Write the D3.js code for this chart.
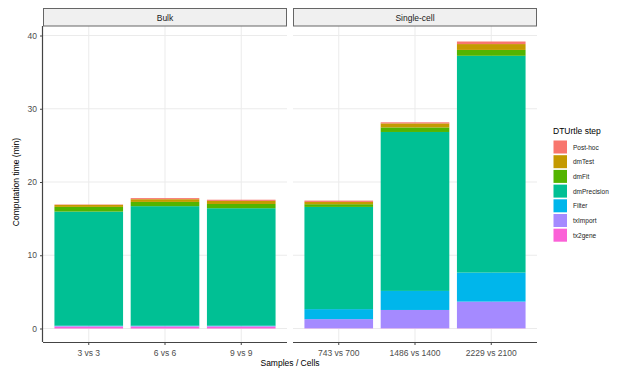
<!DOCTYPE html>
<html><head><meta charset="utf-8">
<script src="https://cdn.jsdelivr.net/npm/d3@7"></script>
<style>body{margin:0;background:#fff}svg{display:block;font-family:"Liberation Sans",Arial,sans-serif}</style>
</head><body><svg id="c" width="627" height="370"></svg>
<script>
const facets = ["Bulk", "Single-cell"];
const bulkCategories = ["3 vs 3", "6 vs 6", "9 vs 9"];
const scCategories = ["743 vs 700", "1486 vs 1400", "2229 vs 2100"];
const steps = ["Post-hoc", "dmTest", "dmFit", "dmPrecision", "Filter", "txImport", "tx2gene"];
const stepColors = ["#F8766D", "#C49A00", "#53B400", "#00C094", "#00B6EB", "#A58AFF", "#FB61D7"];
// values per step, in category order (bulk then single-cell)
const tx2gene     = [0.25, 0.25, 0.25, 0.03, 0.03, 0.03];
const txImport    = [0.08, 0.08, 0.08, 1.25, 2.50, 3.64];
const filterStep  = [0.05, 0.05, 0.05, 1.37, 2.60, 3.96];
const dmPrecision = [15.58, 16.32, 16.04, 13.95, 21.70, 29.60];
const dmFit       = [0.64, 0.58, 0.58, 0.37, 0.62, 0.80];
const dmTest      = [0.28, 0.37, 0.42, 0.31, 0.55, 0.80];
const postHoc     = [0.05, 0.15, 0.16, 0.18, 0.15, 0.35];
const yTicks = [0, 10, 20, 30, 40];

(function () {
const stepValues = {"tx2gene": tx2gene, "txImport": txImport, "Filter": filterStep, "dmPrecision": dmPrecision, "dmFit": dmFit, "dmTest": dmTest, "Post-hoc": postHoc};
const allCats = bulkCategories.concat(scCategories);
const rows = allCats.map((c, i) => {
  const r = {cat: c, facet: i < 3 ? facets[0] : facets[1]};
  steps.forEach(s => r[s] = stepValues[s][i]);
  return r;
});
const stackOrder = steps.slice().reverse(); // bottom to top
const stacked = d3.stack().keys(stackOrder)(rows);
const color = d3.scaleOrdinal().domain(steps).range(stepColors);

const svg = d3.select("#c");
const pTop = 26, pBottom = 342;
const y = d3.scaleLinear().domain([0, 40]).range([328.5, 35.5]);
const panels = [{name: facets[0], x0: 43, x1: 287, cats: bulkCategories}, {name: facets[1], x0: 293, x1: 537, cats: scCategories}];
const grid = "#ebebeb";

panels.forEach(p => {
  const w = p.x1 - p.x0;
  const unit = w / 3.2;
  const xb = d3.scaleBand().domain(p.cats).range([p.x0 + 0.1 * unit, p.x1 - 0.1 * unit]).paddingInner(0.1).paddingOuter(0.05);
  const g = svg.append("g");
  g.selectAll(".hy").data(yTicks).join("line").attr("x1", p.x0).attr("x2", p.x1)
    .attr("y1", d => y(d)).attr("y2", d => y(d)).attr("stroke", grid).attr("stroke-width", 1);
  g.selectAll(".vx").data(p.cats).join("line").attr("y1", pTop).attr("y2", pBottom)
    .attr("x1", d => xb(d) + xb.bandwidth() / 2).attr("x2", d => xb(d) + xb.bandwidth() / 2).attr("stroke", grid);
  stacked.forEach(layer => {
    g.selectAll(null).data(layer.filter(d => d.data.facet === p.name)).join("rect")
      .attr("x", d => xb(d.data.cat)).attr("width", xb.bandwidth())
      .attr("y", d => y(d[1])).attr("height", d => Math.max(0, y(d[0]) - y(d[1])))
      .attr("fill", color(layer.key));
  });
  g.append("rect").attr("x", p.x0 + 0.5).attr("y", 8.5).attr("width", w - 1).attr("height", 17.5)
    .attr("fill", "#f0f0f0").attr("stroke", "#666").attr("stroke-width", 1);
  g.append("text").attr("x", (p.x0 + p.x1) / 2).attr("y", 20.5).attr("text-anchor", "middle")
    .attr("font-size", 8.5).attr("fill", "#1a1a1a").text(p.name);
  const xAxis = d3.axisBottom(xb).tickSize(3).tickSizeOuter(0);
  const ax = g.append("g").attr("transform", `translate(0,${pBottom})`).call(xAxis);
  ax.select(".domain").attr("d", `M${p.x0},0.5H${p.x1}`).attr("stroke", "#444").attr("stroke-width", 1.2);
  ax.selectAll(".tick line").attr("stroke", "#444");
  ax.selectAll(".tick text").attr("font-size", 8.5).attr("fill", "#4d4d4d").attr("dy", "0.9em")
    .attr("font-family", "Liberation Sans, Arial, sans-serif");
});

const yAxis = d3.axisLeft(y).tickValues(yTicks).tickSize(3).tickSizeOuter(0);
const ay = svg.append("g").attr("transform", "translate(43,0)").call(yAxis);
ay.select(".domain").attr("d", `M-0.5,${pTop}V${pBottom}`).attr("stroke", "#444").attr("stroke-width", 1.2);
ay.selectAll(".tick line").attr("stroke", "#444");
ay.selectAll(".tick text").attr("font-size", 8.5).attr("fill", "#4d4d4d").attr("font-family", "Liberation Sans, Arial, sans-serif");

svg.append("text").attr("transform", "translate(19,182) rotate(-90)").attr("text-anchor", "middle")
  .attr("font-size", 8.5).attr("fill", "#000").text("Computation time (min)");
svg.append("text").attr("x", 290).attr("y", 366).attr("text-anchor", "middle")
  .attr("font-size", 8.5).attr("fill", "#000").text("Samples / Cells");

const lg = svg.append("g").attr("transform", "translate(553,0)");
lg.append("text").attr("x", 0).attr("y", 134).attr("font-size", 8.5).attr("fill", "#000").text("DTUrtle step");
steps.forEach((s, i) => {
  const yy = 140.5 + i * 14.7;
  lg.append("rect").attr("x", 0.5).attr("y", yy).attr("width", 13.5).attr("height", 13).attr("fill", color(s));
  lg.append("text").attr("x", 20).attr("y", yy + 9).attr("font-size", 6.5).attr("fill", "#222").text(s);
});
})();
</script></body></html>
